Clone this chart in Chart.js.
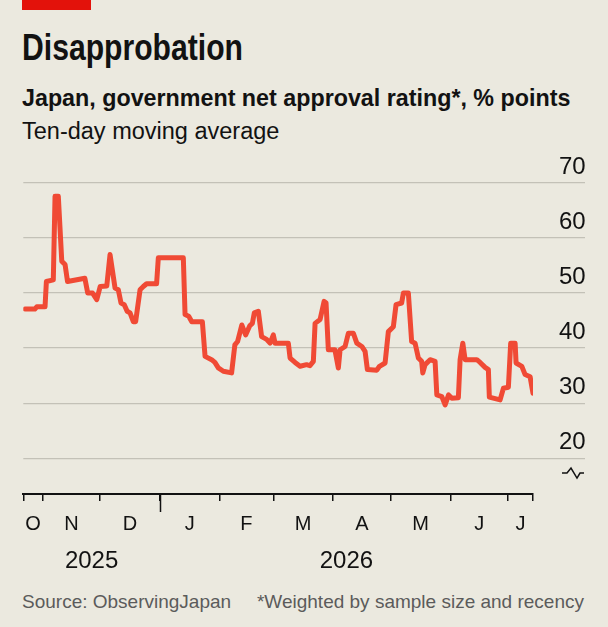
<!DOCTYPE html>
<html>
<head>
<meta charset="utf-8">
<script src="https://cdn.jsdelivr.net/npm/chart.js@4.4.1/dist/chart.umd.min.js"></script>
<style>
  html, body { margin: 0; padding: 0; }
  body {
    width: 608px; height: 627px; position: relative; overflow: hidden;
    background: #ebe9df; color: #121212;
    font-family: 'Liberation Sans', sans-serif;
  }
  .redbar { position: absolute; left: 22px; top: 0; width: 69px; height: 10px; background: #e3120b; }
  .txt { position: absolute; left: 22px; white-space: nowrap; line-height: 1; transform-origin: 0 0; }
  .title { top: 30px; font-size: 36px; font-weight: bold; transform: scaleX(0.837); }
  .sub { top: 86px; font-size: 24.5px; font-weight: bold; transform: scaleX(0.95); }
  .sub2 { top: 120px; font-size: 23.5px; }
  .foot { top: 592px; font-size: 19px; color: #5b5b5b; }
  .foot.right { left: auto; right: 24px; }
  #wrap { position: absolute; left: 0; top: 150px; width: 608px; height: 427px; }
</style>
</head>
<body>
<div class="redbar"></div>
<div class="txt title">Disapprobation</div>
<div class="txt sub">Japan, government net approval rating*, % points</div>
<div class="txt sub2">Ten-day moving average</div>
<div id="wrap"><canvas id="chartCanvas" width="608" height="427"></canvas></div>
<div class="txt foot">Source: ObservingJapan</div>
<div class="txt foot right">*Weighted by sample size and recency</div>

<script>
// days counted from Oct 22nd 2025
var dayIndex = [
  1, 6, 7, 11.3, 12, 15.6, 16.5, 18.2, 20, 21.7, 23, 32, 33.5, 36, 38.2, 40, 43.4,
  45.1, 47.7, 49.4, 50.8, 52.5, 54, 55.5, 57.2, 58.4, 60.7, 62.4, 64.1, 69.3, 70.2,
  83.2, 84.1, 86, 87.6, 93.1, 94.5, 97.9, 99.6, 101.4, 104, 108.3, 110, 111.4, 113.6,
  115.6, 117.8, 119.1, 120.1, 122.2, 123.9, 126.5, 128.3, 130, 130.9, 137.8, 138.7,
  141.3, 143.9, 147.3, 149, 150.8, 151.7, 154.3, 156.4, 157.4, 158.6, 162, 163.8,
  164.7, 167.3, 169, 171.6, 173.4, 176, 177.7, 178.9, 183.8, 185.2, 188.1, 189.8,
  192.4, 193.8, 196.7, 197.6, 200.2, 201.9, 203.7, 205.4, 207.1, 207.7, 208.9, 211.5,
  214.1, 215, 217.6, 219.3, 221.1, 222.8, 226.2, 227.1, 228.5, 229.7, 235.8, 237.5,
  240.1, 241.8, 242.3, 247.9, 249.6, 252.2, 253.4, 255.7, 256.2, 259.2, 260.9, 263.5,
  265
];
var netApproval = [
  47.1, 47.1, 47.5, 47.5, 52.1, 52.4, 67.6, 67.6, 55.8, 55.2, 52.1, 52.7, 50, 50, 48.8, 51.2, 51.3,
  57, 50.9, 50.6, 48.2, 47.9, 46.7, 46.4, 44.8, 44.8, 50.6, 51.2, 51.7, 51.7, 56.4,
  56.4, 46.1, 45.8, 44.8, 44.8, 38.5, 37.9, 37.4, 36.4, 35.8, 35.5, 40.6, 41.2, 44.2,
  42.4, 44.1, 44.5, 46.4, 46.7, 42.1, 41.6, 40.9, 42.4, 40.9, 40.9, 38.2,
  37.4, 36.7, 37, 36.8, 37.6, 44.5, 45.2, 48.5, 48.2, 39.7, 39.7, 36.4,
  39.7, 40.3, 42.7, 42.7, 40.9, 40.3, 39.4, 36.1, 36, 36.7, 37.3, 43,
  43.9, 47.9, 48.2, 50, 50, 41.2, 40.9, 38.2, 37.6, 35.5, 37, 37.9,
  37.6, 31.5, 31.2, 29.7, 31.5, 30.9, 31, 37.9, 40.9, 37.9, 37.9, 37.4,
  36.5, 36.1, 31.1, 30.6, 32.7, 32.9, 40.9, 40.9, 37.3, 36.7, 35.2, 34.8,
  31.8
];

var monthTickDays = [0, 10, 40, 71, 102, 130, 161, 191, 222, 252, 265];
var monthLabelDays = [5, 25, 55.5, 86.5, 116, 145.5, 176, 206.5, 237, 258.5];
var monthLabels = ['O', 'N', 'D', 'J', 'F', 'M', 'A', 'M', 'J', 'J'];
var yearLabelDays = [35.5, 168];
var yearLabels = ['2025', '2026'];
var yTicks = [20, 30, 40, 50, 60, 70];
var yearStartDay = 71;
var breakValue = 17.3;

var ink = '#121212';

var axisExtras = {
  id: 'axisExtras',
  afterDraw: function (chart) {
    var ctx = chart.ctx;
    var xs = chart.scales.x;
    var ys = chart.scales.y;
    ctx.save();
    ctx.strokeStyle = ink;
    ctx.lineWidth = 1.5;
    // longer tick at the turn of the year
    var jan = Math.round(xs.getPixelForValue(yearStartDay)) + 0.5;
    ctx.beginPath();
    ctx.moveTo(jan, xs.top);
    ctx.lineTo(jan, xs.top + 18);
    ctx.stroke();
    // axis break symbol
    var by = ys.getPixelForValue(breakValue);
    var bx = chart.chartArea.right + 29;
    ctx.lineJoin = 'miter';
    ctx.beginPath();
    ctx.moveTo(bx, by);
    ctx.lineTo(bx + 5, by);
    ctx.lineTo(bx + 9, by - 5);
    ctx.lineTo(bx + 15, by + 5);
    ctx.lineTo(bx + 18, by);
    ctx.lineTo(bx + 22, by);
    ctx.stroke();
    ctx.restore();
  }
};

function setTicks(values) {
  return function (scale) {
    scale.ticks = values.map(function (v) { return { value: v }; });
  };
}

var ctx = document.getElementById('chartCanvas').getContext('2d');
var chartInstance = new Chart(ctx, {
  type: 'line',
  data: {
    datasets: [{
      data: dayIndex.map(function (d, i) { return { x: d, y: netApproval[i] }; }),
      borderColor: '#f04a35',
      borderWidth: 5,
      borderCapStyle: 'round',
      borderJoinStyle: 'round',
      pointRadius: 0,
      tension: 0,
      fill: false
    }]
  },
  options: {
    responsive: false,
    animation: false,
    devicePixelRatio: 1,
    layout: { padding: { left: 23.3, right: 23, top: 33, bottom: 0 } },
    plugins: { legend: { display: false }, tooltip: { enabled: false } },
    scales: {
      x: {
        type: 'linear', position: 'bottom', min: 0, max: 265,
        afterBuildTicks: setTicks(monthTickDays),
        afterFit: function (s) { s.height = 7; },
        ticks: { display: false },
        grid: { drawOnChartArea: false, drawTicks: true, tickLength: 7, color: ink, lineWidth: 1.5 },
        border: { display: true, color: ink, width: 2 }
      },
      xm: {
        type: 'linear', position: 'bottom', min: 0, max: 265,
        afterBuildTicks: setTicks(monthLabelDays),
        afterFit: function (s) { s.height = 36; },
        ticks: {
          autoSkip: false, maxRotation: 0, padding: 11.4, color: ink,
          font: { family: "'Liberation Sans', sans-serif", size: 20, lineHeight: 1.2 },
          callback: function (v, i) { return monthLabels[i]; }
        },
        grid: { display: false, drawTicks: false },
        border: { display: false }
      },
      xy: {
        type: 'linear', position: 'bottom', min: 0, max: 265,
        afterBuildTicks: setTicks(yearLabelDays),
        afterFit: function (s) { s.height = 40; },
        ticks: {
          autoSkip: false, maxRotation: 0, padding: 9.6, color: ink,
          font: { family: "'Liberation Sans', sans-serif", size: 24, lineHeight: 1.2 },
          callback: function (v, i) { return yearLabels[i]; }
        },
        grid: { display: false, drawTicks: false },
        border: { display: false }
      },
      y: {
        type: 'linear', position: 'right', min: 13.5, max: 70,
        afterBuildTicks: setTicks(yTicks),
        afterFit: function (s) { s.width = 52; },
        ticks: {
          crossAlign: 'near', padding: -26, labelOffset: -16, color: ink,
          font: { family: "'Liberation Sans', sans-serif", size: 24, lineHeight: 1.2 }
        },
        grid: { color: '#c3c1b7', lineWidth: 1.3, drawTicks: true, tickLength: 52 },
        border: { display: false }
      }
    }
  },
  plugins: [axisExtras]
});
</script>
</body>
</html>
